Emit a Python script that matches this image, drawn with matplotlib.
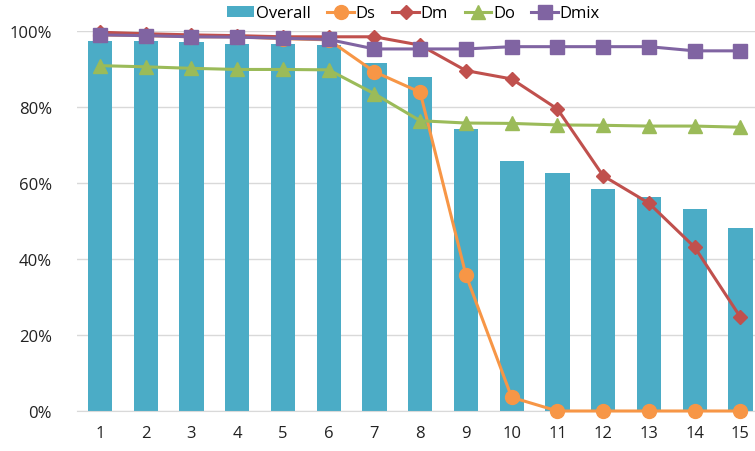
import matplotlib.pyplot as plt
from matplotlib.ticker import PercentFormatter

# values (fractions)
steps = list(range(1, 16))
overall = [0.974, 0.974, 0.970, 0.966, 0.966, 0.963, 0.917, 0.878, 0.742, 0.657,
           0.626, 0.584, 0.562, 0.532, 0.483]
ds = [0.990, 0.988, 0.985, 0.985, 0.980, 0.977, 0.893, 0.839, 0.358, 0.036,
      0.0, 0.0, 0.0, 0.0, 0.0]
dm = [0.997, 0.993, 0.990, 0.988, 0.985, 0.985, 0.985, 0.963, 0.896, 0.874,
      0.795, 0.619, 0.547, 0.431, 0.247]
do = [0.909, 0.906, 0.902, 0.899, 0.899, 0.898, 0.835, 0.764, 0.758, 0.757,
      0.753, 0.752, 0.750, 0.750, 0.747]
dmix = [0.990, 0.988, 0.985, 0.984, 0.981, 0.978, 0.953, 0.953, 0.953, 0.959,
        0.959, 0.959, 0.959, 0.948, 0.948]

plt.rcParams['font.family'] = ['Open Sans', 'DejaVu Sans']

fig = plt.figure(figsize=(7.55, 4.52), dpi=100)
ax = fig.add_axes([0.102, 0.0885, 0.909, 0.8405])

h_bar = ax.bar(steps, overall, width=0.53, color='#4BACC6', label='Overall', zorder=2)
h_ds, = ax.plot(steps, ds, color='#F79646', marker='o', markersize=10, lw=2.2,
                label='Ds', zorder=3, clip_on=False)
h_dm, = ax.plot(steps, dm, color='#C0504D', marker='D', markersize=7.5, lw=2.2,
                label='Dm', zorder=4, clip_on=False)
h_do, = ax.plot(steps, do, color='#9BBB59', marker='^', markersize=10, lw=2.2,
                label='Do', zorder=3, clip_on=False)
h_dmix, = ax.plot(steps, dmix, color='#8064A2', marker='s', markersize=9.5, lw=2.2,
                  label='Dmix', zorder=5, clip_on=False)

ax.set_xlim(0.5, 15.5)
ax.set_ylim(0, 1.0)
ax.set_xticks(steps)
ax.set_yticks([0, 0.2, 0.4, 0.6, 0.8, 1.0])
ax.yaxis.set_major_formatter(PercentFormatter(1.0, decimals=0))
ax.tick_params(length=0, labelsize=12, colors='#222222')
ax.tick_params(axis='y', pad=18)
ax.tick_params(axis='x', pad=10)
ax.grid(axis='y', color='#D9D9D9', lw=1, zorder=0)
for side in ['top', 'right', 'left']:
    ax.spines[side].set_visible(False)
ax.spines['bottom'].set_color('#D9D9D9')

fig.legend(handles=[h_bar, h_ds, h_dm, h_do, h_dmix], loc='center',
           bbox_to_anchor=(0.548, 0.968), ncol=5, frameon=False,
           fontsize=12, handlelength=1.6, handletextpad=0.1, columnspacing=1.0,
           borderaxespad=0)

fig.savefig('out.png', dpi=100)
